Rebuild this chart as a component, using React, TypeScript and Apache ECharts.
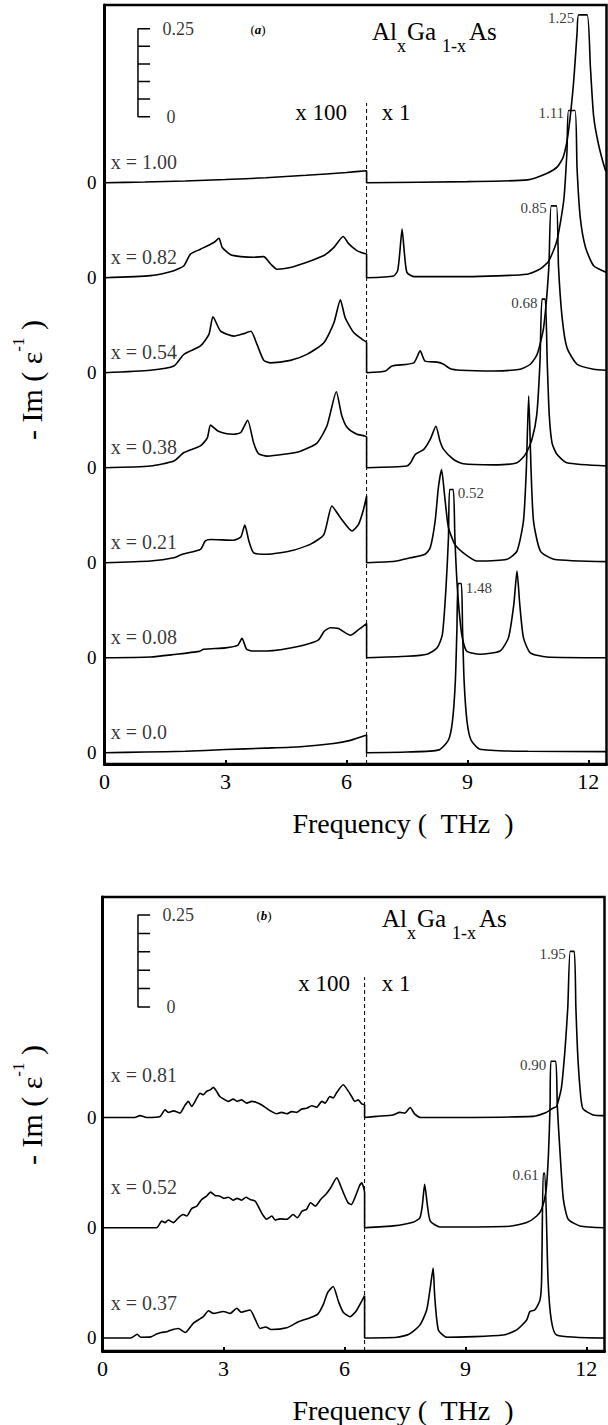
import React, { useEffect, useRef } from 'react';
import * as echarts from 'echarts';

const FONT = '"Liberation Serif", "DejaVu Serif", serif';

// ---------- Panel (a) data: [frequency THz, -Im(1/eps) displayed] ----------
// left part (f < 6.5) is shown x100, right part x1; clipped peaks are flat-topped
const a_x000_left = [[0,0],[1,0.002],[2,0.004],[3,0.009],[4,0.013],[4.86,0.017],[5.68,0.026],[6.1,0.035],[6.5,0.05]];
const a_x000_right = [[6.5,0],[7.5,0.002],[8.3,0.008],[8.53,0.036],[8.63,0.09],[8.7,0.2],[8.74,0.35],[8.77,0.481],[8.85,0.481],[8.88,0.35],[8.92,0.2],[8.99,0.09],[9.09,0.036],[9.31,0.01],[10.5,0.004],[12.45,0.003]];

const a_x008_left = [[0,0],[1.14,0.002],[1.72,0.009],[2.35,0.018],[2.46,0.024],[3.0,0.028],[3.3,0.035],[3.41,0.055],[3.52,0.025],[3.65,0.019],[4.03,0.019],[4.86,0.033],[5.3,0.05],[5.45,0.075],[5.6,0.085],[5.8,0.083],[6.1,0.064],[6.3,0.08],[6.5,0.097]];
const a_x008_right = [[6.5,0],[7.5,0.004],[8.0,0.01],[8.25,0.028],[8.38,0.066],[8.47,0.2],[8.53,0.34],[8.56,0.478],[8.65,0.478],[8.69,0.34],[8.75,0.2],[8.86,0.066],[8.98,0.019],[9.31,0.01],[9.81,0.019],[10.02,0.057],[10.15,0.15],[10.23,0.246],[10.3,0.15],[10.39,0.057],[10.56,0.014],[10.97,0.002],[12.45,0]];

const a_x021_left = [[0,0],[1.14,0.005],[1.72,0.014],[1.93,0.024],[2.38,0.038],[2.5,0.062],[2.63,0.066],[3.2,0.064],[3.38,0.073],[3.48,0.107],[3.58,0.062],[3.7,0.028],[4.03,0.024],[4.6,0.033],[5.1,0.052],[5.44,0.08],[5.64,0.161],[5.85,0.128],[6.14,0.09],[6.3,0.109],[6.42,0.15],[6.5,0.189]];
const a_x021_right = [[6.5,0],[7.2,0.004],[7.59,0.014],[7.95,0.024],[8.08,0.043],[8.2,0.118],[8.28,0.213],[8.36,0.265],[8.44,0.185],[8.53,0.1],[8.69,0.052],[8.9,0.028],[9.23,0.005],[9.98,0.01],[10.23,0.033],[10.39,0.118],[10.46,0.26],[10.52,0.474],[10.58,0.26],[10.64,0.118],[10.81,0.033],[11.14,0.01],[12.45,0.003]];

const a_x038_left = [[0,0],[1.14,0.005],[1.72,0.019],[1.97,0.043],[2.38,0.062],[2.55,0.085],[2.63,0.121],[2.8,0.105],[3.0,0.097],[3.2,0.095],[3.38,0.1],[3.55,0.135],[3.7,0.07],[3.82,0.04],[4.03,0.033],[4.45,0.038],[4.86,0.047],[5.27,0.07],[5.52,0.12],[5.75,0.216],[5.88,0.15],[6.02,0.114],[6.26,0.095],[6.5,0.087]];
const a_x038_right = [[6.5,0],[7.5,0.005],[7.59,0.014],[7.71,0.038],[7.92,0.052],[8.08,0.081],[8.22,0.118],[8.32,0.076],[8.41,0.052],[8.65,0.024],[8.9,0.011],[9.65,0.008],[10.23,0.014],[10.44,0.038],[10.6,0.08],[10.72,0.15],[10.8,0.3],[10.85,0.479],[10.93,0.479],[10.98,0.3],[11.03,0.15],[11.1,0.07],[11.22,0.038],[11.47,0.014],[12.45,0.005]];

const a_x054_left = [[0,0],[1.14,0.007],[1.72,0.019],[1.97,0.052],[2.38,0.076],[2.59,0.109],[2.69,0.159],[2.88,0.118],[3.21,0.104],[3.45,0.111],[3.63,0.118],[3.78,0.081],[3.95,0.035],[4.12,0.028],[4.61,0.035],[5.02,0.052],[5.44,0.085],[5.69,0.142],[5.85,0.207],[5.97,0.156],[6.18,0.114],[6.39,0.095],[6.5,0.085]];
const a_x054_right = [[6.5,0],[6.97,0.005],[7.13,0.019],[7.67,0.028],[7.83,0.062],[7.95,0.033],[8.25,0.03],[8.41,0.024],[8.58,0.011],[8.82,0.007],[9.65,0.005],[10.31,0.01],[10.56,0.024],[10.73,0.052],[10.89,0.128],[11.02,0.3],[11.08,0.474],[11.21,0.474],[11.26,0.3],[11.35,0.156],[11.47,0.071],[11.72,0.024],[12.13,0.01],[12.45,0.007]];

const a_x082_left = [[0,0],[1.14,0.006],[1.72,0.02],[1.97,0.034],[2.13,0.067],[2.38,0.081],[2.71,0.1],[2.84,0.112],[2.92,0.086],[3.13,0.065],[3.38,0.06],[3.71,0.058],[3.95,0.06],[4.12,0.039],[4.28,0.024],[4.61,0.029],[5.02,0.044],[5.44,0.063],[5.69,0.086],[5.92,0.117],[6.06,0.096],[6.26,0.077],[6.43,0.069],[6.5,0.067]];
const a_x082_right = [[6.5,0],[7.17,0.005],[7.27,0.02],[7.32,0.067],[7.38,0.138],[7.44,0.067],[7.5,0.015],[7.67,0.003],[9.0,0.003],[10.48,0.01],[10.81,0.025],[11.02,0.048],[11.22,0.105],[11.39,0.22],[11.47,0.36],[11.51,0.475],[11.67,0.475],[11.72,0.31],[11.8,0.17],[11.93,0.086],[12.13,0.034],[12.45,0.015]];

const a_x100_left = [[0,0],[1,0.002],[2,0.005],[3,0.009],[4,0.014],[5,0.021],[6,0.029],[6.5,0.034]];
const a_x100_right = [[6.5,0],[9,0.003],[10.49,0.008],[10.98,0.027],[11.23,0.045],[11.38,0.074],[11.5,0.14],[11.63,0.28],[11.72,0.425],[11.76,0.477],[11.97,0.477],[12.05,0.33],[12.13,0.19],[12.25,0.11],[12.42,0.036],[12.45,0.033]];

const compositionsA = ['x = 0.0','x = 0.08','x = 0.21','x = 0.38','x = 0.54','x = 0.82','x = 1.00'];
const curvesA = [
  [a_x000_left, a_x000_right],
  [a_x008_left, a_x008_right],
  [a_x021_left, a_x021_right],
  [a_x038_left, a_x038_right],
  [a_x054_left, a_x054_right],
  [a_x082_left, a_x082_right],
  [a_x100_left, a_x100_right],
];
const peakTextA = ['1.25','1.11','0.85','0.68','0.52','1.48'];
const peakFreqA = [11.76, 11.51, 11.08, 10.85, 8.65, 8.85];
const peakRowA = [6, 5, 4, 3, 1, 0];
const peakSideA = ['left','left','left','left','right','right'];

// ---------- Panel (b) data ----------
const b_x037_left = [[0,0],[0.7,0],[0.86,0.01],[0.95,0.002],[1.2,0.003],[1.34,0.011],[1.46,0.015],[1.59,0.017],[1.71,0.022],[1.88,0.026],[2.05,0.015],[2.25,0.04],[2.5,0.058],[2.63,0.074],[2.75,0.067],[3.0,0.072],[3.17,0.067],[3.33,0.081],[3.44,0.07],[3.66,0.076],[3.78,0.053],[3.91,0.026],[4.05,0.03],[4.18,0.023],[4.57,0.028],[4.86,0.044],[5.15,0.055],[5.34,0.065],[5.48,0.092],[5.58,0.123],[5.72,0.14],[5.85,0.1],[5.97,0.07],[6.14,0.058],[6.3,0.075],[6.5,0.115]];
const b_x037_right = [[6.5,0],[7.3,0.002],[7.6,0.01],[7.87,0.035],[8.04,0.076],[8.12,0.13],[8.2,0.19],[8.24,0.112],[8.33,0.022],[8.54,0.002],[9.94,0.008],[10.27,0.022],[10.52,0.049],[10.6,0.072],[10.72,0.076],[10.85,0.103],[10.89,0.158],[10.93,0.448],[10.97,0.448],[11.05,0.158],[11.13,0.049],[11.26,0.008],[12.45,0]];

const b_x052_left = [[0,0],[1.34,0],[1.47,0.018],[1.55,0.014],[1.63,0.021],[1.76,0.014],[1.88,0.027],[2.0,0.036],[2.09,0.032],[2.21,0.052],[2.34,0.059],[2.46,0.077],[2.58,0.086],[2.68,0.097],[2.79,0.088],[2.91,0.086],[3.01,0.08],[3.12,0.083],[3.24,0.075],[3.34,0.08],[3.45,0.075],[3.56,0.083],[3.66,0.077],[3.78,0.073],[3.86,0.059],[3.97,0.036],[4.07,0.023],[4.2,0.032],[4.28,0.021],[4.4,0.024],[4.57,0.023],[4.73,0.036],[4.83,0.027],[4.95,0.045],[5.06,0.05],[5.16,0.068],[5.28,0.059],[5.41,0.077],[5.54,0.091],[5.66,0.109],[5.81,0.136],[5.91,0.113],[5.99,0.091],[6.09,0.068],[6.17,0.063],[6.26,0.082],[6.37,0.113],[6.43,0.122],[6.5,0.095]];
const b_x052_right = [[6.5,0],[7.21,0.005],[7.7,0.015],[7.87,0.027],[7.93,0.059],[7.99,0.118],[8.06,0.059],[8.13,0.018],[8.37,0.002],[10.1,0.004],[10.52,0.014],[10.77,0.032],[10.89,0.05],[11.0,0.1],[11.06,0.2],[11.1,0.33],[11.12,0.453],[11.24,0.453],[11.28,0.33],[11.35,0.2],[11.43,0.077],[11.55,0.023],[11.84,0.005],[12.45,0]];

const b_x081_left = [[0,0],[0.8,0],[0.93,0.005],[1.1,0],[1.43,0.003],[1.55,0.021],[1.63,0.014],[1.76,0.018],[1.92,0.012],[2.05,0.034],[2.13,0.044],[2.21,0.03],[2.34,0.053],[2.42,0.066],[2.5,0.062],[2.58,0.071],[2.67,0.075],[2.75,0.082],[2.83,0.071],[2.91,0.057],[3.04,0.048],[3.12,0.044],[3.24,0.05],[3.34,0.044],[3.45,0.048],[3.58,0.039],[3.7,0.044],[3.82,0.041],[3.95,0.034],[4.07,0.025],[4.2,0.016],[4.32,0.01],[4.44,0.014],[4.57,0.01],[4.69,0.016],[4.82,0.014],[4.94,0.023],[5.06,0.025],[5.19,0.032],[5.31,0.028],[5.44,0.044],[5.52,0.039],[5.64,0.057],[5.72,0.053],[5.81,0.068],[5.97,0.089],[6.1,0.071],[6.18,0.057],[6.26,0.044],[6.34,0.048],[6.43,0.037],[6.5,0.034]];
const b_x081_right = [[6.5,0],[6.8,0.003],[7.21,0.007],[7.37,0.014],[7.5,0.012],[7.63,0.027],[7.74,0.01],[7.9,0],[10.68,0.003],[10.97,0.012],[11.17,0.025],[11.26,0.03],[11.38,0.08],[11.47,0.184],[11.54,0.3],[11.6,0.452],[11.7,0.452],[11.74,0.3],[11.78,0.184],[11.84,0.083],[11.91,0.025],[12.17,0.007],[12.45,0.005]];

const compositionsB = ['x = 0.37','x = 0.52','x = 0.81'];
const curvesB = [
  [b_x037_left, b_x037_right],
  [b_x052_left, b_x052_right],
  [b_x081_left, b_x081_right],
];
const peakTextB = ['1.95','0.90','0.61'];
const peakFreqB = [11.6, 11.12, 10.93];
const peakRowB = [2, 1, 0];
const peakSideB = ['left','left','left'];

const xTickLabels = [0, 3, 6, 9, 12];
const BREAK_FREQ = 6.5;

// ---------- layout ----------
const PANELS = [
  {
    grid: { left: 104.5, top: 5, width: 502, height: 759 },
    yMin: -0.0321, yMax: 2.125, step: 0.27, cap: 0.477,
    curves: curvesA, names: compositionsA, nameLift: [0.058,0.058,0.058,0.058,0.058,0.058,0.058],
    peakText: peakTextA, peakFreq: peakFreqA, peakRow: peakRowA, peakSide: peakSideA,
    dashTop: 1.8465, bar: { x0: 0.83, x1: 1.13, y0: 1.8076 }, labelX: 0.14,
  },
  {
    grid: { left: 102.5, top: 897, width: 502, height: 454 },
    yMin: -0.0354, yMax: 1.2, step: 0.30, cap: 0.452,
    curves: curvesB, names: compositionsB, nameLift: [0.095, 0.112, 0.116],
    peakText: peakTextB, peakFreq: peakFreqB, peakRow: peakRowB, peakSide: peakSideB,
    dashTop: 0.982, bar: { x0: 0.88, x1: 1.18, y0: 0.9007 }, labelX: 0.19,
  },
];

function buildOption() {
  const grid: any[] = [];
  const xAxis: any[] = [];
  const yAxis: any[] = [];
  const series: any[] = [];
  const graphic: any[] = [];

  PANELS.forEach((p, i) => {
    const offsets = p.curves.map((_, k) => +(k * p.step).toFixed(4));
    grid.push({ ...p.grid, show: true, borderColor: '#000', borderWidth: 2.5, backgroundColor: 'transparent', containLabel: false });
    xAxis.push({
      gridIndex: i, type: 'value', min: 0, max: 12.45,
      axisLine: { show: true, onZero: false, lineStyle: { color: '#000', width: 3 } },
      axisTick: { show: true, inside: true, length: 4, customValues: [3, 6, 9, 12], lineStyle: { color: '#000', width: 2 } },
      axisLabel: { customValues: xTickLabels, color: '#000', fontSize: 22, fontFamily: FONT, margin: 6 },
      splitLine: { show: false },
    });
    yAxis.push({
      gridIndex: i, type: 'value', min: p.yMin, max: p.yMax,
      axisLine: { show: true, onZero: false, lineStyle: { color: '#000', width: 3 } },
      axisTick: { show: false },
      axisLabel: { customValues: offsets, formatter: () => '0', color: '#000', fontSize: 19, fontFamily: FONT, margin: i === 0 ? 8 : 6 },
      splitLine: { show: false },
    });

    // spectra
    p.curves.forEach(([left, right], k) => {
      const off = offsets[k];
      series.push({
        type: 'line', xAxisIndex: i, yAxisIndex: i, silent: true, symbol: 'none', showSymbol: false,
        smooth: 0.2,
        lineStyle: { color: '#000', width: 1.6 }, z: 3,
        data: [...left, ...right].map(([x, y]) => [x, y + off]),
      });
    });

    // dashed separator between x100 and x1 parts
    series.push({
      type: 'line', xAxisIndex: i, yAxisIndex: i, silent: true, symbol: 'none', z: 2,
      lineStyle: { color: '#000', width: 1, type: [4, 3] },
      data: [[BREAK_FREQ, p.yMin], [BREAK_FREQ, p.dashTop]],
    });

    // scale bar 0 .. 0.25
    const b = p.bar;
    const barPts: number[][] = [[b.x1, b.y0], [b.x0, b.y0]];
    for (let s = 1; s <= 5; s++) {
      const yv = b.y0 + s * 0.05;
      barPts.push([b.x0, yv], [b.x1, yv], [b.x0, yv]);
    }
    series.push({
      type: 'line', xAxisIndex: i, yAxisIndex: i, silent: true, symbol: 'none',
      lineStyle: { color: '#000', width: 1.5 }, data: barPts,
    });
    series.push({
      type: 'scatter', xAxisIndex: i, yAxisIndex: i, silent: true, symbolSize: 1,
      itemStyle: { color: 'transparent' },
      label: { show: true, position: 'right', distance: 12, color: '#000', fontSize: 18, fontFamily: FONT, formatter: (d: any) => d.value[2] },
      data: [[b.x1, b.y0 + 0.25, '0.25'], [b.x1 + 0.1, b.y0, '0']],
    });

    // composition labels
    series.push({
      type: 'scatter', xAxisIndex: i, yAxisIndex: i, silent: true, symbolSize: 1,
      itemStyle: { color: 'transparent' },
      label: { show: true, position: 'right', distance: 0, color: '#000', fontSize: 20, fontFamily: FONT, formatter: (d: any) => d.value[2] },
      data: p.names.map((n, k) => [p.labelX, offsets[k] + p.nameLift[k], n]),
    });

    // clipped peak value labels
    series.push({
      type: 'scatter', xAxisIndex: i, yAxisIndex: i, silent: true, symbolSize: 1,
      itemStyle: { color: 'transparent' },
      data: p.peakText.map((t, k) => ({
        value: [p.peakFreq[k], offsets[p.peakRow[k]] + p.cap, t],
        label: {
          show: true, position: p.peakSide[k], distance: 4, offset: [0, 3],
          color: '#000', fontSize: 15, fontFamily: FONT, formatter: t,
        },
      })),
    });
  });

  // texts: titles, multipliers, panel letters, axis titles
  const titleText = (x: number, y: number) => [
    { type: 'text', x, y, style: { text: 'Al', fontSize: 25, fontFamily: FONT, fill: '#000', verticalAlign: 'middle' } },
    { type: 'text', x: x + 25, y: y + 15, style: { text: 'x', fontSize: 18, fontFamily: FONT, fill: '#000', verticalAlign: 'middle' } },
    { type: 'text', x: x + 35, y, style: { text: 'Ga', fontSize: 25, fontFamily: FONT, fill: '#000', verticalAlign: 'middle' } },
    { type: 'text', x: x + 70, y: y + 15, style: { text: '1-x', fontSize: 18, fontFamily: FONT, fill: '#000', verticalAlign: 'middle' } },
    { type: 'text', x: x + 97, y, style: { text: 'As', fontSize: 25, fontFamily: FONT, fill: '#000', verticalAlign: 'middle' } },
  ];
  graphic.push(...titleText(372, 31), ...titleText(382, 918));

  const letter = (x: number, y: number, l: string) => ({
    type: 'text', x, y,
    style: {
      text: `{n|(}{b|${l}}{n|)}`, align: 'center', verticalAlign: 'middle', fill: '#000',
      rich: { n: { fontSize: 13, fontFamily: FONT }, b: { fontSize: 13, fontFamily: FONT, fontWeight: 'bold', fontStyle: 'italic' } },
    },
  });
  graphic.push(letter(258, 29, 'a'), letter(264, 915, 'b'));

  const mult = (y: number, xa: number, xb: number) => [
    { type: 'text', x: xa, y, style: { text: 'x 100', fontSize: 23, fontFamily: FONT, fill: '#000', align: 'center', verticalAlign: 'middle' } },
    { type: 'text', x: xb, y, style: { text: 'x 1', fontSize: 23, fontFamily: FONT, fill: '#000', align: 'center', verticalAlign: 'middle' } },
  ];
  graphic.push(...mult(112, 321, 396), ...mult(983, 324, 396));

  const freq = (y: number) => ({
    type: 'text', x: 403, y,
    style: { text: 'Frequency (  THz  )', fontSize: 28, fontFamily: FONT, fill: '#000', align: 'center', verticalAlign: 'middle' },
  });
  graphic.push(freq(823), freq(1410));

  const ytitle = (y: number) => ({
    type: 'text', x: 28, y, rotation: Math.PI / 2,
    style: {
      text: '{m|- Im ( ε}{s|-1}{m| )}', align: 'center', verticalAlign: 'middle', fill: '#000',
      rich: {
        m: { fontSize: 30, fontFamily: FONT, lineHeight: 36, verticalAlign: 'bottom' },
        s: { fontSize: 17, fontFamily: FONT, lineHeight: 36, verticalAlign: 'top' },
      },
    },
  });
  graphic.push(ytitle(380), ytitle(1105));

  return {
    animation: false,
    backgroundColor: '#fff',
    grid, xAxis, yAxis, series, graphic,
  };
}

export default function App() {
  const ref = useRef<HTMLDivElement>(null);
  useEffect(() => {
    const chart = echarts.init(ref.current!, null, { renderer: 'svg' });
    chart.setOption(buildOption() as any);
    return () => chart.dispose();
  }, []);
  return (
    <div
      ref={ref}
      style={{ position: 'absolute', left: 0, top: 0, width: 608, height: 1425, background: '#fff' }}
    />
  );
}
